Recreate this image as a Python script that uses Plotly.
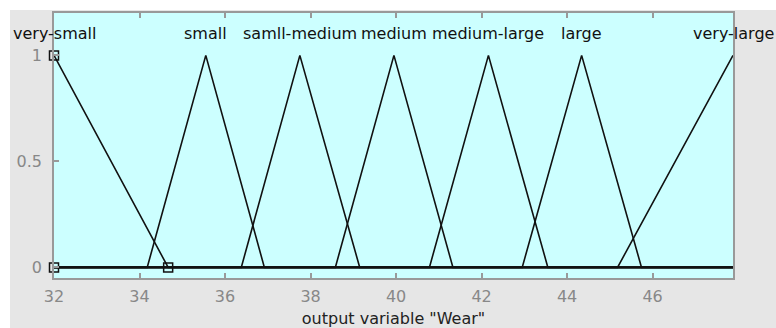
import plotly.graph_objects as go

# ---- data ----
mf_names = ["very-small", "small", "samll-medium", "medium", "medium-large", "large", "very-large"]
mf_a = [32.00, 34.18, 36.38, 38.58, 40.78, 42.95, 45.18]   # left feet
mf_b = [32.00, 35.55, 37.75, 39.95, 42.16, 44.34, 47.88]   # peaks
mf_c = [34.67, 36.92, 39.15, 41.33, 43.55, 45.74, 47.88]   # right feet
x_range = [32, 47.88]
x_ticks = [32, 34, 36, 38, 40, 42, 44, 46]
y_ticks = [0, 0.5, 1]
y_ticklabels = ["0", "0.5", "1"]
selected_mf = 0  # "very-small" is highlighted with vertex squares
x_title = 'output variable "Wear"'

FONT = "DejaVu Sans"


def trimf(x, a, b, c):
    if x == b:
        return 1.0
    if x < b:
        return max(0.0, (x - a) / (b - a)) if b > a else 0.0
    return max(0.0, (c - x) / (c - b)) if c > b else 0.0


fig = go.Figure()

for name, a, b, c in zip(mf_names, mf_a, mf_b, mf_c):
    pts = sorted(set(v for v in [x_range[0], a, b, c, x_range[1]] if x_range[0] <= v <= x_range[1]))
    ys = [trimf(v, a, b, c) for v in pts]
    fig.add_trace(go.Scatter(x=pts, y=ys, mode="lines",
                             line=dict(color="#111111", width=1.6),
                             showlegend=False, hoverinfo="skip"))

sa, sb, sc = mf_a[selected_mf], mf_b[selected_mf], mf_c[selected_mf]
fig.add_trace(go.Scatter(x=[sa, sb, sc], y=[0, 1, 0], mode="markers",
                         marker=dict(symbol="square-open", size=9, color="#111111",
                                     line=dict(width=1.5, color="#111111")),
                         showlegend=False, hoverinfo="skip", cliponaxis=False))

for name, b in zip(mf_names, mf_b):
    fig.add_annotation(x=b, y=1.105, xref="x", yref="y", text=name, showarrow=False,
                       xanchor="center", yanchor="middle",
                       font=dict(family=FONT, size=16, color="#111111"))

# white strips on the left and top edges of the window
fig.add_shape(type="rect", xref="paper", yref="paper", xsizemode="pixel", xanchor=0,
              x0=-60, x1=-44, y0=-0.3, y1=1.2, fillcolor="white", line_width=0, layer="below")
fig.add_shape(type="rect", xref="paper", yref="paper", ysizemode="pixel", yanchor=1,
              y0=3, y1=20, x0=-0.2, x1=1.2, fillcolor="white", line_width=0, layer="below")

fig.update_layout(
    width=776, height=328, autosize=False,
    margin=dict(l=54, r=43, t=13, b=50),
    paper_bgcolor="#e6e6e6", plot_bgcolor="#ccffff",
    font=dict(family=FONT, size=16, color="#888888"),
)
fig.update_xaxes(range=x_range, tickvals=x_ticks, ticks="inside", ticklen=5, tickwidth=1.5,
                 tickcolor="#999999", showline=True, linecolor="#999999", linewidth=1.5,
                 mirror="ticks", showgrid=False, zeroline=False, ticklabelstandoff=3,
                 automargin=False,
                 tickfont=dict(family=FONT, size=16, color="#888888"),
                 title=dict(text=x_title, font=dict(family=FONT, size=16, color="#222222"), standoff=10))
fig.update_yaxes(range=[-0.05, 1.2], tickvals=y_ticks, ticktext=y_ticklabels, ticks="inside",
                 ticklen=5, tickwidth=1.5, tickcolor="#999999", showline=True, linecolor="#999999",
                 linewidth=1.5, mirror=True, showgrid=False, zeroline=False, ticklabelstandoff=7,
                 automargin=False,
                 tickfont=dict(family=FONT, size=16, color="#888888"))

fig.write_html("out.html")
